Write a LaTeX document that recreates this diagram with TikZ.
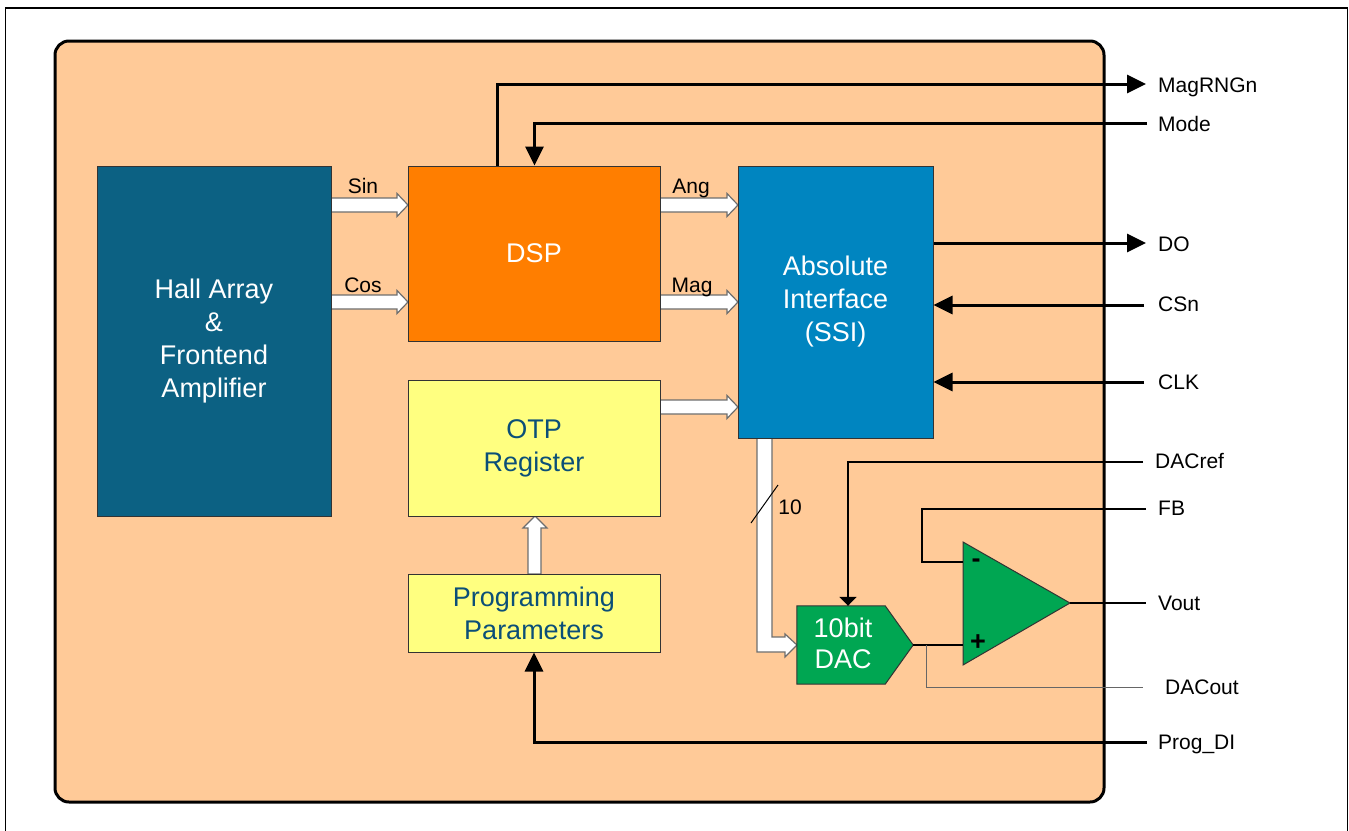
\documentclass[tikz,border=0pt]{standalone}
\usepackage{fontspec}
\setmainfont{Liberation Sans}
\usetikzlibrary{arrows.meta,calc}
\definecolor{bgor}{HTML}{FFCA98}
\definecolor{hallc}{HTML}{0C6183}
\definecolor{dspc}{HTML}{FF7E00}
\definecolor{ifc}{HTML}{0085C0}
\definecolor{yel}{HTML}{FFFF80}
\definecolor{grn}{HTML}{00A652}
\definecolor{txtb}{HTML}{0B4F78}
\definecolor{hgray}{HTML}{6E6E6E}
\newcommand\hharrow[3]{\filldraw[hollow] (#1,{#3-7}) -- ({#2-11},{#3-7}) -- ({#2-11},{#3-11.5}) -- (#2,#3) -- ({#2-11},{#3+11.5}) -- ({#2-11},{#3+7}) -- (#1,{#3+7}) -- cycle;}
\begin{document}
\begin{tikzpicture}[x=1pt,y=-1pt,
 box/.style={draw=black!80, line width=1pt, inner sep=0pt, align=center, font=\fontsize{27}{33}\selectfont},
 lbl/.style={inner sep=0pt, font=\fontsize{21}{25}\selectfont, text height=15pt, text depth=0pt},
 sig/.style={line width=3pt},
 tip/.style={-{Triangle[length=19pt,width=18pt]}},
 hollow/.style={draw=hgray, line width=1.2pt, fill=white}]
\useasboundingbox (0,0) rectangle (1349,830);
% frame
\draw[line width=1.2pt] (5.6,832) -- (5.6,8) -- (1347.5,8) -- (1347.5,832);
% chip body
\draw[line width=3pt, rounded corners=14pt, fill=bgor] (55,41) rectangle (1104,802);
% hollow bus arrows
\hharrow{331}{408}{205}
\hharrow{331}{408}{302}
\hharrow{660}{738}{205}
\hharrow{660}{738}{302}
\hharrow{660}{738}{407}
\filldraw[hollow] (528,574) -- (528,528) -- (523,528) -- (535,516) -- (547,528) -- (541,528) -- (541,574) -- cycle;
\fill[white] (757,438) -- (757,652) -- (785,652) -- (785,657) -- (797,645) -- (785,634) -- (785,637) -- (772,637) -- (772,438) -- cycle;
\draw[draw=hgray, line width=1.2pt] (757,438) -- (757,652) -- (785,652) -- (785,657) -- (797,645) -- (785,634) -- (785,637) -- (772,637) -- (772,438);
% blocks
\node[box, fill=hallc, text=white, minimum width=234pt, minimum height=350pt] (hall) at (214,341) {Hall Array\\\&\\Frontend\\Amplifier};
\node[box, fill=dspc, text=white, minimum width=252pt, minimum height=175pt] (dsp) at (534,253.5) {DSP};
\node[box, fill=ifc, text=white, minimum width=195pt, minimum height=272pt] (iface) at (835.5,302) {Absolute\\Interface\\(SSI)};
\node[box, fill=yel, text=txtb, minimum width=252pt, minimum height=136pt] (otp) at (534,448) {OTP\\Register};
\node[box, fill=yel, text=txtb, minimum width=252pt, minimum height=78pt] (prog) at (534,613) {Programming\\Parameters};
% DAC
\node[inner sep=0pt, minimum width=116pt, minimum height=78pt] (dac) at (855,645) {};
\draw[fill=grn, draw=black!80, line width=1pt] (dac.north west) -- ([xshift=-28pt]dac.north east) -- (dac.east) -- ([xshift=-28pt]dac.south east) -- (dac.south west) -- cycle;
\node[text=white, align=center, inner sep=0pt, font=\fontsize{27}{31}\selectfont] (dactxt) at (843,643) {10bit\\DAC};
% op-amp
\coordinate (oaMinus) at (963,562);
\coordinate (oaPlus) at (963,645);
\coordinate (oaTip) at (1070,603);
\draw[fill=grn, draw=black!80, line width=1pt] (963,542) -- (oaTip) -- (963,665) -- cycle;
\node[inner sep=0pt, font=\fontsize{27}{27}\selectfont\bfseries] (minus) at (976,563) {-};
\node[inner sep=0pt, font=\fontsize{27}{27}\selectfont\bfseries] (plus) at (978,643) {+};
% ports
\coordinate (pMag) at (1146,84);
\coordinate (pMode) at (1147,123);
\coordinate (pDO) at (1146,243);
\coordinate (pCSn) at (1144,305);
\coordinate (pCLK) at (1144,382);
\coordinate (pDACref) at (1143,462);
\coordinate (pFB) at (1146,509);
\coordinate (pVout) at (1146,603);
\coordinate (pDACout) at (1143,687);
\coordinate (pProg) at (1147,742);
% connectors
\draw[sig, tip] ([xshift=90pt]dsp.north west) |- (pMag);
\draw[sig, tip] (pMode) -| ([xshift=127pt]dsp.north west);
\draw[sig, tip] (iface.east |- pDO) -- (pDO);
\draw[sig, tip] (pCSn) -- (iface.east |- pCSn);
\draw[sig, tip] (pCLK) -- (iface.east |- pCLK);
\draw[line width=2pt, -{Triangle[length=9pt,width=17pt]}] (pDACref) -| ([xshift=-7pt]dac.north);
\draw[line width=2pt] (pFB) -| ([xshift=-41pt]oaMinus) -- (oaMinus);
\draw[line width=1.5pt] (oaTip) -- (pVout);
\draw[line width=2pt] (dac.east) -- (oaPlus);
\draw[line width=1pt, draw=black!60] ([xshift=13pt]dac.east) |- (pDACout);
\draw[sig, tip] (pProg) -| (prog.south);
% bus width mark
\draw[line width=1pt] (751,523) -- (778,485);
\node[lbl, anchor=center] (ten) at (790,507) {10};
% signal labels
\node[lbl] (lsin) at (363,186) {Sin};
\node[lbl] (lcos) at (363,285) {Cos};
\node[lbl] (lang) at (691,186) {Ang};
\node[lbl] (lmag) at (692,285) {Mag};
\node[lbl, anchor=west] (tMag) at (1158,85) {MagRNGn};
\node[lbl, anchor=west] (tMode) at (1158,124) {Mode};
\node[lbl, anchor=west] (tDO) at (1158,244) {DO};
\node[lbl, anchor=west] (tCSn) at (1158,304) {CSn};
\node[lbl, anchor=west] (tCLK) at (1158,382) {CLK};
\node[lbl, anchor=west] (tDACref) at (1155,461) {DACref};
\node[lbl, anchor=west] (tFB) at (1158,508) {FB};
\node[lbl, anchor=west] (tVout) at (1158,603) {Vout};
\node[lbl, anchor=west] (tDACout) at (1165,687) {DACout};
\node[lbl, anchor=west] (tProg) at (1158,742) {Prog\_DI};
\end{tikzpicture}
\end{document}
